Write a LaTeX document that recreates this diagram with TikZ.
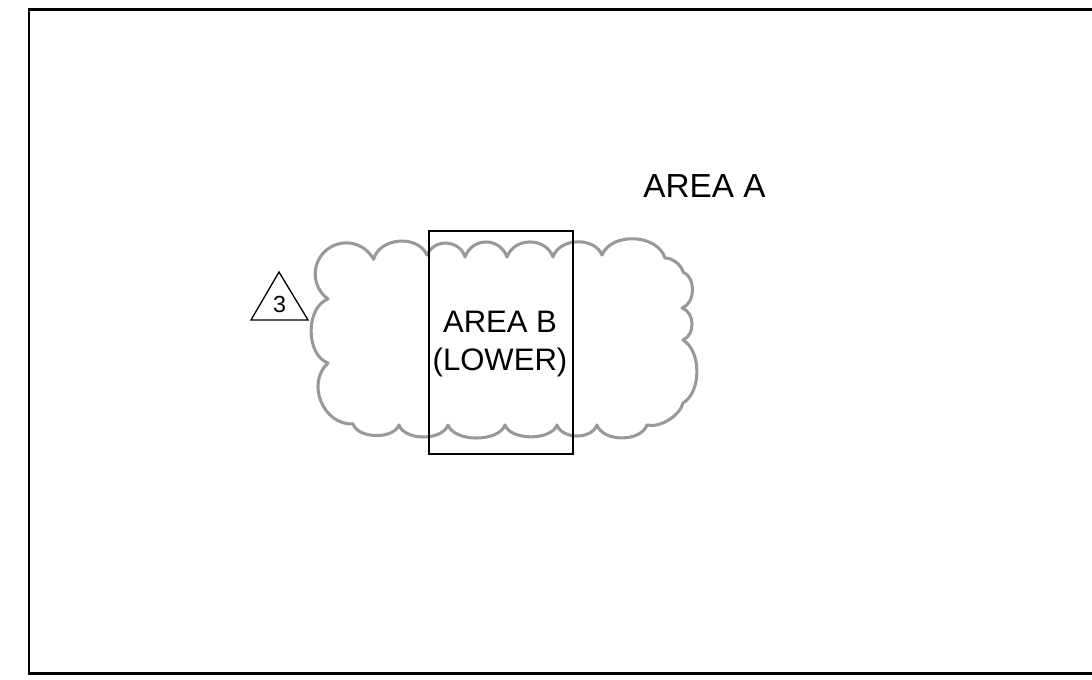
\documentclass[tikz,border=0pt]{standalone}
\usepackage{fontspec}
\setmainfont{Liberation Sans}
\definecolor{cloudgray}{RGB}{153,153,153}
\begin{document}
\begin{tikzpicture}[x=0.75pt,y=0.75pt,
  frameline/.style={draw=black, line width=2pt},
  cloudline/.style={draw=cloudgray, line width=2.3pt, line join=round},
  boxline/.style={draw=black, line width=1.5pt},
  triline/.style={draw=black, line width=1pt, line join=miter},
  bigtext/.style={font=\fontsize{25}{30}\selectfont, inner sep=0pt, anchor=base},
  midtext/.style={font=\fontsize{23.3}{28}\selectfont, inner sep=0pt, anchor=base},
  smalltext/.style={font=\fontsize{17.5}{21}\selectfont, inner sep=0pt, anchor=base}]
\useasboundingbox (0,0) rectangle (1092,679);
% outer frame (open on the right)
\draw[frameline] (1092,669.3) -- (29,669.3) -- (29,5.7) -- (1092,5.7);
% revision cloud
\draw[cloudline] (328,380) arc[start angle=234, end angle=28, radius=31]
 to[bend left=70, looseness=1.09] (427,424)
 to[bend left=70, looseness=1.23] (465,422)
 to[bend left=70, looseness=1.3] (507,422)
 to[bend left=70, looseness=1.19] (553,422)
 to[bend left=70, looseness=1.05] (602,424)
 to[bend left=70, looseness=1.02] (665,421)
 to[bend left=40, looseness=0.8] (683,407)
 to[bend left=70, looseness=1.0] (682,371)
 to[bend left=70, looseness=1.08] (683,339)
 to[bend left=60, looseness=0.87] (683,276)
 to[bend left=45, looseness=0.8] (647,254)
 to[bend left=70, looseness=0.94] (597,254)
 to[bend left=70, looseness=1.0] (557,254)
 to[bend left=70, looseness=0.83] (505,254)
 to[bend left=70, looseness=0.83] (448,254)
 to[bend left=70, looseness=0.89] (399,254)
 to[bend left=70, looseness=0.87] (353,255)
 to[bend left=70, looseness=1.16] (328,316)
 to[bend left=70, looseness=0.96] (328,380) -- cycle;
% area B box
\draw[boxline] (429,225) rectangle (573,448);
\node[midtext] (areab1) at (500,346) {AREA B};
\node[midtext] (areab2) at (500,308) {(LOWER)};
% area A label
\node[bigtext] (areaa) at (704.5,481) {AREA A};
% revision triangle
\draw[triline] (279,407) -- (251,359) -- (308,359) -- cycle;
\node[smalltext] (rev3) at (279.5,366) {3};
\end{tikzpicture}
\end{document}
